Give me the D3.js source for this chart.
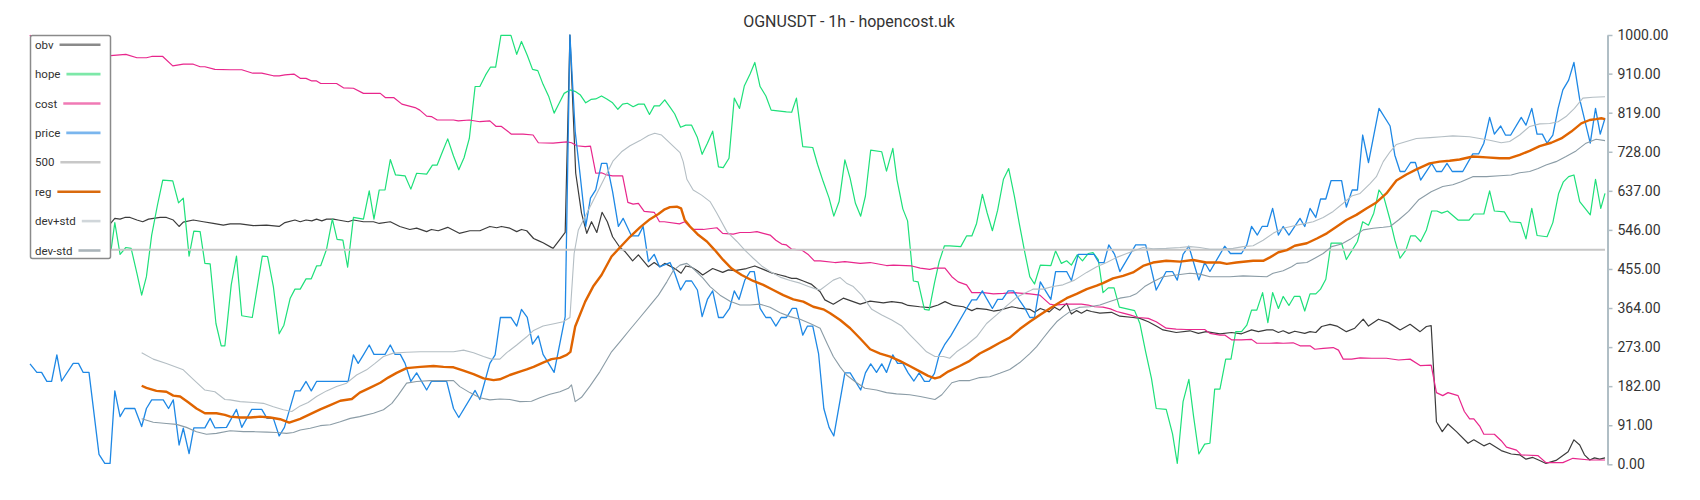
<!DOCTYPE html>
<html>
<head>
<meta charset="utf-8">
<script src="https://cdn.jsdelivr.net/npm/d3@7"></script>
<style>
  body { margin: 0; background: #fff; }
  svg { display: block; font-family: Roboto, "Noto Sans", sans-serif; }
</style>
</head>
<body>
<svg id="chart" width="1700" height="500"></svg>
<script>
// OGNUSDT 1h - normalised series, [hour index, value 0..1000]
const title = 'OGNUSDT - 1h - hopencost.uk';
const yTicks = [0, 91, 182, 273, 364, 455, 546, 637, 728, 819, 910, 1000];
const seriesNames = ['obv', 'hope', 'cost', 'price', '500', 'reg', 'dev+std', 'dev-std'];

const obv = [[15.3,561],[16.1,573],[17.1,571],[18,575],[19,575],[20.3,569],[21.4,565],[22.5,571],[24.7,575],[25.9,575],[27.2,569],[28.3,554],[29.1,564],[31,569],[32.9,565],[34.8,561],[36.7,557],[38,560],[39.9,560],[42.4,556],[44.9,557],[47.3,554],[48.4,563],[50.3,569],[51.3,565],[52.4,569],[53.5,567],[54.4,571],[55.4,567],[56.3,571],[57.6,571],[58.5,569],[60.4,565],[61.4,569],[63.3,565],[65.2,565],[66.3,561],[68.4,565],[70.2,554],[72.1,547],[73.4,550],[75.3,542],[76.2,547],[77.5,544],[79.3,552],[81.5,538],[83.5,544],[85.4,544],[87.3,554],[88.6,551],[89.5,554],[91.1,550],[92.4,542],[93.3,547],[94.3,544],[95.6,526],[96.5,521],[97.4,516],[99.3,503],[100.5,522],[101.6,540],[102.5,1000],[103.6,678],[104.7,585],[105.7,538],[106.6,565],[107.6,540],[108.6,587],[109.6,565],[110.6,530],[112,505],[113,495],[114.4,474],[115.5,488],[117.4,460],[118.5,470],[119.6,460],[120.5,468],[122.4,456],[123.6,445],[124.5,462],[125.6,459],[126.7,451],[127.7,441],[129.6,456],[131.5,447],[132.6,453],[133.8,451],[136,456],[137.6,462],[139.2,454],[140.8,446],[142.4,441],[143.6,437],[144.6,433],[145.5,433],[146.8,427],[148.4,419],[150,402],[150.9,383],[152.5,373],[154.4,387],[157.6,373],[159.5,380],[162,376],[163.6,379],[165.5,376],[166.7,370],[168.9,367],[170.8,365],[172.4,371],[173.7,379],[175.3,370],[177.2,367],[178.8,358],[179.7,363],[181.6,361],[182.9,357],[184.1,359],[186.4,367],[188,363],[189.8,361],[190.7,354],[191.8,363],[193.5,355],[194.5,366],[195.5,359],[196.8,375],[197.7,350],[198.7,358],[199.6,352],[200.6,359],[201.5,356],[203.1,352],[205.3,354],[206.9,345],[209.4,342],[210.7,340],[212.3,332],[213.8,322],[215.1,313],[217.6,307],[220.2,311],[221.8,305],[223.3,309],[225.9,304],[228.1,307],[230,304],[231.9,313],[233.2,309],[234.8,313],[236,313],[237,307],[237.9,311],[239,305],[240.1,310],[242,305],[243,309],[244.1,307],[245.2,321],[246.8,326],[248.1,322],[249.9,309],[251.5,317],[253.1,338],[254.1,322],[256,338],[257.9,330],[260.1,313],[262,326],[263.9,309],[265.1,321],[266,323],[267,99],[268.1,76],[269.2,94],[270.8,76],[273,49],[274.1,57],[276,43],[277.1,49],[279.3,32],[281.2,24],[282.8,22],[284,12],[285.3,16],[286.6,9],[287.8,2],[289.7,9],[292,29],[293.1,57],[294.2,45],[295.1,22],[296.1,10],[297,15],[298,12],[299,15]];

const hope = [[15.4,500],[16.1,563],[17.1,489],[18.2,505],[19.2,503],[20.3,445],[21.2,394],[22.1,437],[23.1,534],[24.2,604],[25.2,662],[27.1,660],[28.2,609],[29.1,620],[30.2,485],[31.1,543],[32.3,542],[33.2,468],[34.2,467],[35.3,328],[36.3,276],[37,276],[38.2,418],[39.2,485],[40.2,346],[42.2,342],[44.1,485],[45.1,484],[46.2,414],[47.3,304],[48.2,324],[49.4,387],[50.3,408],[51.3,408],[52.4,432],[53.4,432],[54.4,462],[55.2,463],[56.3,501],[57.4,571],[58.3,524],[59.4,522],[60.3,459],[61.4,575],[63.3,571],[64.4,637],[65.3,571],[66.3,639],[67.4,639],[68.4,710],[69.4,674],[71.2,672],[72.3,641],[73.4,678],[75.3,676],[76.4,697],[77.3,697],[78.3,728],[79.3,758],[80.4,718],[81.4,686],[82.4,714],[83.4,759],[84.5,880],[85.4,880],[86.5,907],[87.4,925],[88.4,925],[89.4,999],[91.3,999],[92.4,955],[93.3,985],[94.4,953],[95.4,920],[96.4,917],[97.4,885],[98.5,856],[99.5,818],[100.5,842],[101.4,864],[102.5,872],[103.6,868],[104.5,860],[105.5,842],[106.5,850],[107.4,851],[108.5,858],[109.5,851],[110.6,842],[111.6,827],[112.5,839],[113.4,841],[114.5,833],[115.5,839],[116.6,839],[117.6,815],[118.5,835],[119.5,835],[120.5,849],[121.5,832],[122.4,816],[123.5,785],[124.5,790],[125.6,790],[126.7,761],[127.6,722],[128.6,748],[129.6,776],[130.7,693],[131.6,691],[132.7,713],[133.7,853],[134.7,829],[135.6,881],[136.7,909],[137.6,936],[138.6,880],[139.7,858],[140.7,825],[143.6,821],[144.6,820],[145.5,853],[146.7,740],[148.6,738],[149.5,699],[150.6,658],[151.7,620],[152.6,578],[153.6,612],[154.7,709],[155.7,666],[156.7,608],[157.7,578],[158.6,625],[159.6,732],[161.7,728],[162.6,683],[163.8,736],[164.6,662],[165.7,595],[166.6,567],[167.7,427],[168.6,425],[169.8,361],[170.7,359],[171.7,422],[172.6,472],[173.6,509],[174.6,509],[176.7,507],[177.8,532],[178.8,532],[179.7,561],[180.8,629],[181.7,586],[182.7,544],[183.7,592],[184.8,664],[185.8,689],[186.9,623],[187.8,561],[188.9,491],[189.8,437],[190.7,420],[191.8,464],[193.8,463],[194.7,497],[195.8,468],[196.8,474],[197.7,464],[198.8,488],[199.8,474],[200.9,491],[201.8,493],[202.8,477],[203.7,400],[204.7,411],[205.8,411],[206.8,366],[209.7,358],[210.7,328],[211.8,262],[212.9,200],[213.8,130],[215.7,128],[216.9,71],[217.8,2],[218.9,146],[220,198],[220.9,111],[221.9,24],[223,47],[224,49],[224.9,175],[225.9,175],[227,245],[228,245],[228.9,309],[230,309],[231,324],[231.9,359],[232.9,359],[234,400],[235,330],[235.9,400],[237,363],[237.9,391],[239,370],[240,391],[241.1,391],[242,357],[243,397],[244.1,397],[245,408],[246,431],[247,515],[249,515],[249.9,477],[251,499],[252,519],[253,565],[254.1,557],[255.1,585],[256.1,639],[257,623],[258.2,569],[259.1,522],[260.1,480],[261.2,499],[262.1,532],[263,532],[264,519],[265.1,546],[266.1,590],[267.1,590],[268,585],[269.1,590],[271.1,569],[273.2,569],[274.1,583],[276,583],[277.1,637],[278,590],[279.9,588],[281,565],[283,563],[284,525],[285.1,596],[286.1,533],[288,530],[289.1,563],[290.2,631],[291.1,658],[292.1,670],[293.1,674],[294.2,612],[296.2,581],[297.2,664],[298.2,596],[299,631]];

const cost = [[0,1000],[1.5,955],[15.3,952],[18.2,955],[20.3,947],[22.1,947],[23.1,950],[25.2,950],[27.1,928],[29.1,932],[31,932],[32.3,926],[33.2,926],[35.1,920],[38,919],[40.2,919],[42.3,911],[44,911],[46.2,905],[47.3,905],[48.4,907],[50.1,909],[51.3,899],[52.4,899],[53.5,893],[54.4,893],[55.2,887],[58.2,887],[59.5,877],[61.4,876],[63.3,864],[66.5,864],[67.5,854],[69.1,854],[70.6,839],[73.1,831],[74,825],[75.3,811],[76.2,810],[77.3,802],[80.4,802],[81.3,800],[83.4,802],[85.4,798],[87.3,800],[88.5,787],[89.5,787],[91.4,769],[93.6,769],[95.5,767],[96.5,749],[99.3,748],[101.9,751],[102.8,749],[103.8,742],[105.4,740],[106.4,741],[107.4,678],[108.5,679],[109.5,674],[110.6,672],[112.5,672],[113.5,610],[114.5,606],[115.5,608],[116.6,589],[118.5,587],[119.5,565],[120.4,565],[123.3,560],[124.3,565],[125.8,547],[127.8,547],[130.4,551],[131.5,538],[133.5,536],[134.8,540],[136.7,540],[138,542],[139.2,538],[140.5,534],[141.6,522],[142.7,513],[143.6,511],[144.6,501],[146.5,499],[147.8,488],[148.9,474],[150,474],[152.8,470],[154.7,472],[157.6,468],[159.5,470],[162.6,463],[163.9,464],[167.4,462],[169,457],[170.8,454],[171.8,457],[173.7,457],[175,437],[176.2,425],[177.8,418],[178.8,400],[181,400],[182.9,397],[184.8,398],[186.7,400],[189.8,397],[191.7,394],[193.6,373],[194.5,371],[196.8,373],[199.6,373],[200.9,371],[202.1,367],[203.7,366],[205.1,362],[206.3,356],[207.5,352],[208.8,348],[210.4,342],[212.3,340],[213.8,332],[215.7,317],[217.6,315],[219.5,314],[223,314],[224,305],[225.9,301],[226.8,301],[228.1,290],[230,290],[231.9,291],[232.9,282],[235.4,282],[236.7,283],[237.9,282],[239.8,283],[241.1,276],[243,276],[243.9,268],[245.5,270],[247.4,272],[248.4,266],[249.3,245],[250.9,245],[252.5,248],[254.7,247],[257.5,247],[259.8,243],[262,245],[263.9,230],[266,231],[267,167],[268.2,160],[269.2,167],[271.1,160],[272.3,123],[273.3,106],[274.1,106],[275.2,89],[276,70],[278,70],[279.3,55],[280.3,40],[282.2,33],[283.1,22],[286.3,20],[287.8,4],[291,4],[292.9,14],[296.1,10],[299,10]];

const price = [[0,234],[1.3,214],[2.2,214],[3.2,193],[4.1,193],[5.1,255],[6,194],[8.2,235],[9.2,235],[10.1,214],[11.2,214],[13.1,23],[14.2,2],[15.2,2],[16.1,171],[17.1,111],[18,130],[19.9,130],[21.2,88],[22.1,130],[23.1,150],[25.3,150],[26.3,130],[27.2,150],[28.3,45],[29.1,84],[30.2,25],[31.1,85],[33.2,85],[34.2,107],[35.1,85],[37.3,86],[39.2,128],[40.2,86],[42.1,128],[44,128],[45,107],[46.2,107],[47.3,66],[48.3,86],[50.3,171],[51.3,171],[52.4,193],[53.4,171],[54.4,193],[60.4,193],[61.4,255],[62.3,235],[63.3,255],[64.4,278],[65.3,256],[67.4,256],[68.4,278],[69.3,256],[70.3,256],[71.2,235],[72.3,193],[73.4,213],[75.3,173],[76.2,193],[79.1,193],[80.4,130],[81.4,109],[84.5,172],[85.4,151],[87.3,235],[88.3,255],[89.3,342],[91.3,342],[92.4,322],[93.3,361],[94.4,342],[95.4,280],[96.5,299],[97.4,256],[99.5,214],[101.6,344],[102.5,1000],[103.5,775],[104.4,678],[105.5,554],[106.4,620],[107.4,639],[108.5,701],[109.5,701],[110.6,635],[111.7,554],[112.6,573],[114.2,532],[115.5,532],[116.4,554],[117.4,472],[118.5,489],[119.5,460],[121.5,470],[122.4,445],[123.5,406],[124.5,427],[125.6,427],[126.7,406],[127.6,344],[128.6,384],[129.6,404],[130.7,342],[131.6,342],[132.8,363],[133.7,404],[134.6,384],[135.7,429],[136.7,449],[137.5,449],[138.6,363],[139.7,342],[140.6,342],[141.6,322],[142.6,342],[143.6,342],[144.7,363],[145.5,363],[146.7,301],[147.6,322],[148.6,322],[149.7,258],[150.7,130],[151.7,86],[152.6,66],[154.7,213],[155.7,213],[157.7,173],[158.6,213],[159.6,234],[160.7,214],[161.7,234],[162.6,214],[163.8,255],[164.7,235],[165.7,235],[166.7,213],[167.8,194],[168.8,213],[169.8,193],[170.7,193],[171.7,212],[172.6,255],[173.6,278],[174.8,299],[177.8,363],[178.8,383],[179.7,383],[180.8,404],[181.7,384],[182.7,363],[183.7,384],[184.6,384],[185.7,404],[186.7,404],[187.8,383],[188.9,363],[189.8,342],[190.7,342],[191.8,425],[192.8,404],[193.8,384],[194.7,449],[196.8,449],[197.7,428],[199,489],[202,489],[202.9,470],[203.9,470],[204.8,511],[205.9,489],[206.9,449],[209.9,511],[211.8,511],[213.8,406],[215.7,449],[216.9,449],[217.8,429],[218.9,489],[220,508],[220.9,470],[221.9,429],[223,470],[224,449],[226.8,508],[227.9,491],[230,491],[231,511],[231.9,554],[233,534],[233.9,554],[234.9,554],[235.9,596],[237,534],[237.9,554],[239,534],[241.1,573],[242,554],[243,596],[244.1,575],[245,618],[246,618],[247,661],[249,661],[249.9,599],[251,639],[252,639],[253,767],[254.1,703],[256.1,829],[258.2,788],[259.1,720],[260.1,682],[261,682],[262.1,703],[263,703],[264,662],[266.1,701],[267,682],[268,682],[269,701],[270,682],[272,682],[273.9,723],[275,723],[276,748],[277.1,808],[278,769],[279.2,788],[280.1,767],[281.1,767],[283.1,808],[284,790],[285.1,829],[286.1,769],[287.1,769],[288,748],[289.1,767],[290.1,829],[291,872],[292.1,895],[293.1,936],[294.2,850],[296.2,748],[297.2,829],[298.1,769],[299,806]];

const line500 = [[0,500],[299,500]];

const reg = [[21.2,183],[22.1,178],[24,171],[25.9,169],[27.2,160],[28.5,158],[30.1,144],[31.6,130],[33.2,119],[35.4,119],[37,115],[38,111],[39.9,109],[41.8,109],[43.7,111],[45.6,109],[47.5,105],[49.2,97],[51.3,106],[53.2,117],[55.1,128],[57,138],[58.9,148],[61.1,152],[62.6,167],[64.5,178],[66.5,190],[68,202],[69.6,213],[71.5,224],[74.1,227],[76.6,229],[78.5,227],[80.4,226],[82.3,218],[84.2,210],[86.1,200],[88,196],[89.2,198],[91.1,208],[93,216],[94.3,221],[95.6,227],[97.4,237],[99,245],[100.6,248],[101.9,255],[102.6,262],[103.5,321],[105.4,379],[106.9,414],[108.5,441],[110.4,484],[112.3,509],[113.9,530],[115.8,552],[117.7,571],[119.3,583],[120.5,594],[121.5,599],[122.8,600],[123.6,596],[124.3,569],[125.3,554],[126.9,534],[128.5,519],[130,499],[131.6,476],[133.2,456],[135.1,441],[137.3,427],[139.2,418],[141.1,406],[143,394],[144.9,384],[146.8,379],[148.7,367],[150.6,361],[151.9,352],[153.8,336],[155.7,317],[157.6,293],[159.5,268],[161.4,258],[163.3,251],[165.1,241],[167,229],[169,216],[170.5,206],[171.8,200],[172.7,203],[174.3,216],[176.5,229],[178.4,241],[180.3,258],[182.2,270],[184.1,283],[186,295],[187.9,315],[189.8,332],[191.7,348],[193.6,363],[195.2,375],[196.8,387],[198.7,397],[200.6,408],[202.5,416],[203.7,422],[205.6,433],[207.5,439],[209.4,447],[211.3,462],[213.2,470],[215.7,474],[218.3,472],[220.8,476],[223.3,470],[225.9,470],[227.2,467],[229,470],[232.2,474],[234.1,474],[235.4,482],[237,494],[238.6,499],[240.1,509],[242.4,515],[244.3,526],[246.2,538],[248.1,554],[249.9,569],[251.8,581],[253.7,596],[255.6,610],[257.5,631],[259.4,661],[261.3,675],[263.2,687],[265.7,701],[267.6,705],[269.5,707],[271.4,710],[273.9,717],[276.5,715],[279,713],[280.9,713],[282.8,721],[284.7,730],[286.6,741],[288.8,749],[290.7,759],[292.6,775],[294.5,794],[296.1,802],[297.3,804],[298.3,806],[299,804]];

const devPlus = [[21.2,260],[23.4,245],[25.9,235],[29.1,220],[31,198],[33.2,173],[35.1,169],[37,151],[38,150],[39.9,146],[42.4,144],[44.3,142],[46.2,134],[48.1,127],[49.7,123],[51.3,136],[52.8,144],[54.4,158],[56.3,171],[58.2,181],[60.1,189],[62,208],[63.9,220],[65.5,235],[67.1,251],[69,259],[71.5,261],[74.1,262],[76.6,262],[80.4,262],[82.3,266],[84.2,260],[86.1,251],[87.6,245],[89.2,245],[90.5,260],[92.4,278],[94.3,297],[95.5,311],[97.4,322],[99.7,328],[101.2,332],[102.5,342],[103.3,491],[104.1,546],[105.7,585],[107.6,631],[109.2,670],[110.7,707],[112.3,728],[113.9,742],[115.8,754],[117.4,766],[118.6,771],[119.9,767],[121.5,748],[123.4,726],[124,705],[124.7,664],[125.9,639],[127.5,627],[129.1,612],[130.4,585],[132.3,542],[134.2,519],[135.7,499],[137.3,480],[138.9,462],[140.5,449],[142.4,436],[144.3,428],[146.2,422],[147.8,414],[149.3,408],[150,406],[151.3,418],[152.5,429],[153.8,435],[155,422],[156.3,414],[157.9,394],[159.8,361],[161.7,348],[163.6,336],[165.5,322],[167.1,301],[168.6,282],[170.2,262],[171.8,251],[173.4,251],[174.6,247],[175.9,262],[177.8,278],[179.7,297],[181.6,328],[183.5,348],[185.4,369],[187.3,389],[189.8,404],[190.4,408],[192.3,408],[194.2,414],[196.1,418],[198.3,429],[200.6,447],[202.5,460],[204.4,470],[206.3,482],[208.2,491],[210,499],[211.3,505],[213.2,502],[215.7,503],[218.3,505],[220.2,507],[222.1,505],[224,501],[225.9,501],[228.4,503],[230.3,507],[232.2,509],[234.1,522],[236,538],[237.9,550],[239.8,555],[241.7,560],[243.6,565],[245.5,575],[247.4,589],[249.3,608],[250.9,625],[252.5,631],[254.4,654],[255.6,670],[256.9,705],[258.2,728],[259.4,745],[261.3,752],[263.2,759],[265.8,761],[268,763],[270.1,765],[273.3,763],[275.2,759],[277.1,755],[279.3,749],[280.9,752],[282.8,767],[284.7,787],[286.6,793],[288.5,794],[290.1,798],[291.6,810],[293.2,829],[294.8,853],[296.7,855],[299,856]];

const devMinus = [[21.2,106],[23.4,98],[25.9,95],[27.8,93],[29.7,86],[31.6,76],[33.5,70],[35.4,72],[38,78],[40.5,76],[42.4,76],[45,75],[46.8,74],[48.7,72],[50,74],[51.3,80],[53.2,84],[55.1,90],[57,92],[58.9,99],[60.8,107],[62.6,111],[65.2,119],[67.1,127],[68.7,142],[69.9,161],[71.5,189],[73.4,193],[75.9,195],[80.4,195],[81.6,181],[83.5,167],[85.4,155],[87.3,150],[89.2,152],[91.1,151],[93,146],[95.2,147],[96.8,155],[98.7,163],[100.6,169],[102.2,177],[102.8,185],[103.5,146],[104.7,156],[106.3,182],[108.2,216],[110.4,262],[112.3,290],[113.9,314],[115.8,342],[117.7,370],[119.3,394],[120.9,425],[122.1,451],[123.4,464],[124.7,468],[125.9,456],[127.8,433],[129.1,414],[131,394],[132.9,380],[134.8,371],[136.7,371],[138.6,373],[140.5,366],[142.4,353],[144.3,344],[146.2,338],[148.1,328],[150,317],[151.3,282],[152.5,251],[153.8,227],[155,208],[156.6,193],[158.5,177],[160.7,173],[162.6,167],[164.5,164],[167,162],[169,158],[171.8,151],[173.1,162],[175,190],[176.5,195],[178.4,195],[180.3,202],[182.2,204],[184.1,212],[186,221],[187.9,237],[189.8,258],[191.1,274],[192.3,293],[193.6,313],[194.9,332],[196.1,344],[197.7,358],[199.3,366],[201.2,367],[203.1,371],[205,379],[206.9,387],[208.8,391],[210.1,398],[211.6,414],[213.2,425],[215.1,437],[217.6,441],[220.2,445],[222.1,443],[224,437],[227.8,437],[230.3,439],[234.8,437],[236,445],[237.9,451],[239.5,460],[240.5,468],[242.4,470],[243.9,480],[245.5,491],[247.1,507],[249,513],[250.6,524],[252.2,538],[253.1,546],[255,550],[256.9,552],[258.2,554],[259.8,569],[261.7,589],[263.7,617],[266,635],[268.2,647],[270.1,651],[271.7,658],[273.9,670],[276.5,670],[279,672],[281.2,674],[282.8,679],[284.7,682],[286.3,689],[287.8,697],[289.7,705],[291.6,717],[293.5,730],[295.4,748],[297.3,757],[299,754]];

// styles kept apart from data
const lineColors = ['#3c3c3c', '#1ee07a', '#e8268c', '#1e88e5', '#c6c6c6', '#e06400', '#b4bec4', '#8b9ca6'];
const legendColors = ['#8a8a8a', '#7de8a8', '#f07ab5', '#7ab6ee', '#c8c8c8', '#d96a0e', '#d0d6da', '#aab4ba'];
const lineWidths = [1.2, 1.2, 1.2, 1.3, 2, 2.4, 1.1, 1.1];
const seriesData = [obv, hope, cost, price, line500, reg, devPlus, devMinus];

const svg = d3.select('#chart');
const x = d3.scaleLinear().domain([0, 299]).range([30, 1605]);
const y = d3.scaleLinear().domain([0, 1000]).range([464.3, 35]);

// title
svg.append('text')
  .attr('x', 849).attr('y', 26.5)
  .attr('text-anchor', 'middle')
  .attr('font-size', 16)
  .attr('fill', '#333')
  .text(title);

// right axis
const axis = svg.append('g')
  .attr('transform', 'translate(1607.5,0)')
  .call(d3.axisRight(y).tickValues(yTicks).tickFormat(d3.format('.2f'))
    .tickSize(5).tickSizeOuter(0).tickPadding(5));
axis.select('.domain').attr('stroke', '#b0bec5').attr('stroke-width', 2);
axis.selectAll('.tick line').attr('stroke', '#b0bec5').attr('stroke-width', 1.5);
axis.selectAll('.tick text')
  .attr('font-size', 14).attr('fill', '#333')
  .attr('font-family', 'Roboto, sans-serif');

// lines, drawn in legend order
const line = d3.line().x(d => x(d[0])).y(d => y(d[1]));
const plot = svg.append('g');
seriesData.forEach((data, i) => {
  plot.append('path')
    .datum(data)
    .attr('d', line)
    .attr('fill', 'none')
    .attr('stroke', lineColors[i])
    .attr('stroke-width', lineWidths[i])
    .attr('stroke-linejoin', 'round');
});

// legend box
const legend = svg.append('g');
legend.append('rect')
  .attr('x', 30.5).attr('y', 35.5)
  .attr('width', 80).attr('height', 223)
  .attr('rx', 2)
  .attr('fill', '#fff')
  .attr('stroke', '#8a8a8a')
  .attr('stroke-width', 1.5);

seriesNames.forEach((name, i) => {
  const cy = 44.7 + i * 29.4;
  const t = legend.append('text')
    .attr('x', 35).attr('y', cy + 4)
    .attr('font-size', 11.5)
    .attr('fill', '#333')
    .text(name);
  const tw = t.node().getComputedTextLength();
  legend.append('line')
    .attr('x1', 35 + tw + 6).attr('x2', 100.5)
    .attr('y1', cy).attr('y2', cy)
    .attr('stroke', legendColors[i])
    .attr('stroke-width', 2.6);
});
</script>
</body>
</html>
